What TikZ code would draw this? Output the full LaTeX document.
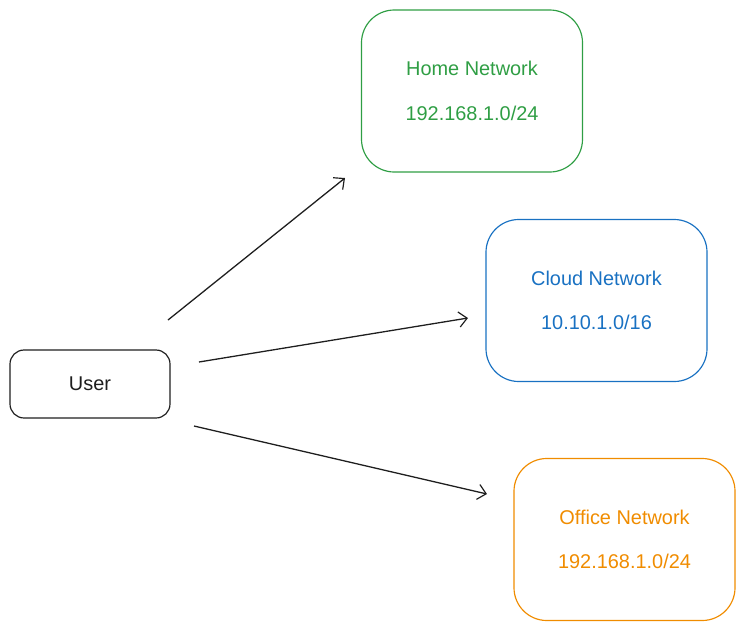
\documentclass[tikz,border=0pt]{standalone}
\usepackage{fontspec}
\setmainfont{Liberation Sans}
\usepackage{tikz}
\usetikzlibrary{arrows.meta}
\definecolor{inkgray}{HTML}{1E1E1E}
\definecolor{homegreen}{HTML}{2F9E44}
\definecolor{cloudblue}{HTML}{1971C2}
\definecolor{officeorange}{HTML}{F08C00}
\tikzset{
    netbox/.style={draw, line width=1pt, rounded corners=28, minimum width=6.63cm,
        minimum height=4.86cm, align=center, font=\fontsize{17}{38}\selectfont},
    userbox/.style={draw=inkgray, line width=1pt, rounded corners=12, minimum width=4.8cm,
        minimum height=2.04cm, text=inkgray, font=\fontsize{17}{20}\selectfont},
    link/.style={draw=inkgray, line width=1.1pt, -{Straight Barb[length=7pt, width=13pt, line width=1pt]}}
}

\begin{document}
\begin{tikzpicture}[x=0.03cm, y=-0.03cm]
    \useasboundingbox (0, 0) rectangle (744, 631);

    % User
    \node[userbox] (user) at (90, 384) {User};

    % Networks
    \node[netbox, draw=homegreen, text=homegreen] (home) at (472, 91)
        {Home Network\\192.168.1.0/24};
    \node[netbox, draw=cloudblue, text=cloudblue] (cloud) at (596.5, 300.5)
        {Cloud Network\\10.10.1.0/16};
    \node[netbox, draw=officeorange, text=officeorange] (office) at (624.5, 539.5)
        {Office Network\\192.168.1.0/24};

    % Arrow ends
    \coordinate (toHomeStart) at (168, 320);
    \coordinate (toHomeEnd) at (345, 178);
    \coordinate (toCloudStart) at (199, 362);
    \coordinate (toCloudEnd) at (468, 318);
    \coordinate (toOfficeStart) at (194, 426);
    \coordinate (toOfficeEnd) at (487, 494);

    \draw[link] (toHomeStart) -- (toHomeEnd);
    \draw[link] (toCloudStart) -- (toCloudEnd);
    \draw[link] (toOfficeStart) -- (toOfficeEnd);
\end{tikzpicture}
\end{document}
